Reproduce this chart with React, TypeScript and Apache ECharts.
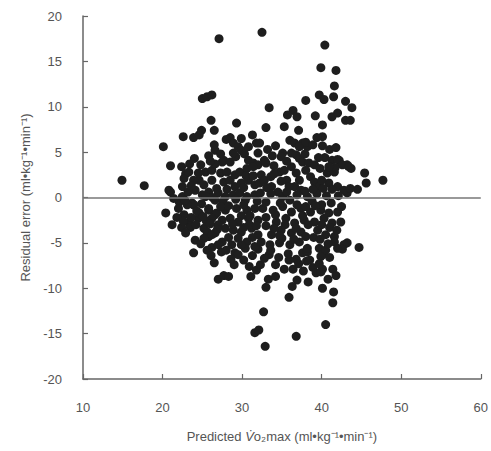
import React, { useEffect, useRef } from "react";
import * as echarts from "echarts";

// Predicted VO2max (x) and residual error (y)
const predictedVo2max: number[] = [
  14.9, 17.7, 20.1, 20.4, 27.1, 25.0, 25.6, 26.2, 26.1, 26.5, 24.9, 22.6, 23.9, 24.6, 26.5, 26.6, 24.0, 21.0, 22.9, 27.5,
  22.5, 21.0, 32.5, 40.4, 39.9, 41.8, 41.6, 38.0, 39.7, 40.3, 41.5, 43.0, 33.4, 36.4, 35.7, 36.9, 39.2, 41.3, 42.0, 43.0,
  43.6, 29.3, 33.0, 35.3, 37.1, 40.1, 40.1, 28.5, 29.9, 31.3, 31.8, 35.1, 36.0, 37.6, 38.2, 40.1, 42.2, 43.2, 43.8, 43.7,
  45.4, 45.6, 47.7, 44.5, 43.2, 43.2, 44.7, 22.7, 23.3, 23.5, 23.9, 25.2, 25.8, 26.6, 27.5, 23.9, 26.5, 27.0, 27.7, 22.1,
  25.8, 26.6, 28.3, 31.1, 31.8, 32.3, 33.3, 34.2, 29.1, 29.5, 32.0, 36.4, 37.7, 38.9, 40.1, 36.9, 36.3, 35.9, 41.5, 41.4,
  32.7, 31.6, 32.1, 32.9, 36.8, 40.5, 42.8, 42.6, 37.6, 38.2, 39.7, 40.1, 39.3, 39.9,
  // upper-left core
  28.9, 29.5, 29.9, 30.3, 27.7, 28.5, 29.2, 30.8, 31.4, 32.0,
  25.4, 26.2, 27.3, 28.1, 24.6, 25.2, 26.2, 27.7, 28.5, 29.1, 29.7, 30.6, 31.4, 24.1, 25.0, 25.8, 26.8, 28.1, 29.1, 29.9,
  30.8, 31.6, 32.2, 27.9, 28.9, 29.7, 30.6, 31.6, 20.8,
  // upper-right core
  36.6, 37.2, 38.0, 38.9, 34.9, 36.2, 36.8, 37.2, 37.6, 38.4, 39.1, 41.3, 42.0, 42.6, 43.4,
  32.2, 32.0, 32.8, 33.0, 34.7, 35.3, 36.2, 36.8, 37.2, 36.6, 37.4, 38.6, 39.1, 39.7, 38.2, 40.7, 41.6, 40.9, 42.0, 42.8,
  43.6, 32.4, 32.8, 33.7, 34.5, 35.1,
  // lower-left core
  25.6, 26.2, 25.2, 21.4, 22.5, 23.7, 25.4, 26.6, 27.6, 29.2, 30.4, 31.9, 25.8, 26.8, 27.9, 29.3, 30.6, 31.6, 26.2, 27.5,
  28.5, 29.5, 30.8, 32.0, 27.9, 28.9, 29.9, 31.2, 32.0, 29.5, 30.6, 31.6, 32.4,
  // lower-right core
  32.6, 33.9, 35.1, 36.2, 37.4, 38.6, 39.9, 40.9, 42.0, 33.0, 34.3, 35.5, 36.6, 37.8, 39.1, 40.3, 41.3, 42.4,
  33.7, 34.9, 36.2, 37.4, 39.5, 40.5, 41.6, 33.5, 34.7, 36.0, 37.2, 38.2, 40.5, 41.6, 42.0, 39.9, 39.7,
  // dense centre
  30.2, 31.0, 33.0, 33.6, 34.2, 34.8, 35.6, 36.0, 36.9, 37.6, 38.0, 38.8, 39.4, 40.0, 40.6, 41.2, 30.9, 31.8, 33.0, 34.0,
  35.4, 36.8, 38.3, 39.0, 40.0, 41.0, 35.0, 36.5, 38.0, 33.4, 34.6, 35.8, 36.8, 34.2, 35.3, 38.5, 41.0, 41.4, 40.8, 41.8,
  27.0, 28.3, 27.4, 26.2, 28.7, 30.4, 30.2, 29.0, 30.9, 24.5, 25.5, 22.4, 21.8, 22.9, 24.1, 21.2, 33.6, 34.0, 35.6, 38.0,
  39.8, 40.4, 41.0, 41.7, 40.0, 38.9, 33.2, 34.2, 30.5, 27.3, 28.0, 25.8, 24.8, 23.4, 26.6, 23.9, 24.6, 23.1, 22.7, 23.3,
  23.9,
  22.0, 22.8, 23.2, 24.3, 24.9, 23.6, 24.2, 22.6, 25.1, 26.0, 26.9, 27.3, 28.3, 28.8, 29.9, 30.2, 31.3, 29.9, 28.0, 27.0,
  25.6, 24.8, 26.1, 28.6, 31.3, 32.8, 33.6, 34.7, 35.9, 37.1, 38.1, 39.8, 40.8, 41.9, 42.5, 42.1, 41.3, 40.2, 39.2, 37.9,
  36.9, 35.9, 34.9, 34.0, 33.1, 32.3, 31.4, 30.2, 27.0, 26.3, 24.5, 23.6, 22.4, 26.0, 28.9, 30.8, 33.8, 35.6, 37.9, 39.6,
  40.9, 41.8, 39.4, 33.0, 38.3, 40.1,
];

const residualError: number[] = [
  1.9, 1.3, 5.6, -1.7, 17.5, 10.9, 11.1, 11.3, 8.5, 7.4, 7.4, 6.7, 6.6, 6.9, 5.8, 5.2, 4.3, 3.5, 2.6, 3.9,
  1.2, 0.6, 18.2, 16.8, 14.3, 14.0, 12.3, 10.7, 11.3, 10.8, 11.1, 10.6, 9.9, 9.6, 9.1, 8.9, 9.0, 8.9, 9.3, 8.5,
  8.5, 8.2, 7.7, 7.8, 7.4, 8.0, 6.7, 6.6, 6.5, 6.9, 6.0, 4.9, 6.3, 6.0, 5.6, 5.7, 4.1, 3.6, 9.9, 3.2,
  2.7, 1.6, 1.9, 0.9, 0.5, -5.0, -5.5, -1.9, -2.8, -3.3, -0.8, -3.4, -4.3, -3.9, -4.9, -6.1, -7.2, -9.0, -8.6, -0.5,
  -1.4, -1.9, -8.7, -8.7, -8.0, -7.4, -9.0, -8.7, -6.1, -6.3, -5.7, -7.9, -8.1, -7.7, -7.9, -9.1, -9.8, -11.0, -10.4, -11.6,
  -12.6, -14.9, -14.6, -16.4, -15.3, -14.0, -5.2, -5.7, -6.1, -6.0, -5.6, -6.3, -8.3, -8.2,
  // upper-left core
  6.0, 5.6, 5.2, 4.8, 4.1, 3.9, 4.5, 4.1, 3.8, 3.6,
  2.8, 3.0, 2.7, 2.8, 1.9, 1.4, 1.9, 1.7, 1.9, 2.5, 2.8, 3.2, 3.4, 0.8, 0.3, 0.6, 1.0, 0.9, 1.2, 1.6,
  1.9, 1.4, 1.6, 0.1, 0.3, 0.5, 0.1, 0.3, 0.8,
  // upper-right core
  6.0, 5.6, 6.1, 5.8, 4.5, 4.9, 4.7, 4.3, 3.9, 3.8, 3.6, 4.1, 4.2, 3.6, 3.4,
  6.0, 4.9, 4.1, 3.8, 2.8, 3.0, 3.4, 2.7, 1.9, 1.2, 0.8, 2.3, 1.7, 1.2, 0.1, 2.7, 2.8, 1.6, 1.2, 0.8,
  1.0, 2.5, 1.9, 1.2, 0.6, 0.1,
  // lower-left core
  -3.8, -4.1, -4.5, -0.1, 0.1, -0.6, 0.1, -0.3, -0.4, -0.2, -0.3, -0.4, -1.2, -1.7, -1.4, -1.2, -1.4, -1.2, -2.3, -2.5,
  -2.3, -2.7, -2.3, -2.5, -3.4, -3.6, -3.8, -3.4, -4.1, -4.5, -4.9, -5.4, -4.9,
  // lower-right core
  -1.2, -1.4, -1.0, -1.6, -1.2, -1.6, -1.4, -1.7, -1.6, -2.2, -2.7, -2.3, -2.8, -2.5, -2.7, -2.3, -2.8, -2.7,
  -4.1, -3.6, -3.9, -3.8, -3.6, -4.1, -4.3, -5.2, -5.0, -5.2, -4.9, -5.6, -5.8, -4.9, -5.6, -6.5, -7.3,
  // dense centre
  -0.8, -2.0, -0.5, 0.4, -1.9, -0.6, 0.6, -0.3, -0.8, -2.0, -1.0, -0.4, 0.4, -0.8, 0.2, -0.6, -3.0, -3.1, -3.1, -3.4,
  -3.0, -3.4, -3.0, -4.4, -3.0, -3.3, -4.5, -4.6, -4.3, -6.3, -6.6, -6.2, -6.8, -7.4, -7.9, -6.9, -6.6, -7.9, -9.0, -8.6,
  -3.0, -4.4, -6.0, -5.5, -5.2, -5.6, -6.9, -7.4, -7.6, -2.3, -2.6, -3.3, -2.2, -3.9, -4.7, -3.0, 2.3, 3.5, 1.9, 3.0,
  3.2, 4.4, 5.3, 3.3, 1.9, 0.9, 5.3, 5.7, 2.4, 4.8, 6.4, 4.6, 3.6, 3.7, 3.7, -0.8, -1.7, -0.8, 2.1, 2.8,
  1.9,
  -1.2, -0.3, 0.6, -1.5, -0.7, -2.2, -3.0, -2.6, -2.1, -2.9, -3.5, -1.0, -0.9, -2.9, -2.0, -3.3, -4.4, -5.2, -5.8, -5.2,
  -5.8, -5.1, -6.4, -6.8, -6.4, -6.7, -5.8, -4.2, -6.9, -7.3, -7.0, -4.6, -5.1, -3.6, -1.0, 0.2, 0.9, 1.0, -0.9, 0.7,
  0.3, 1.2, 1.8, 2.6, 1.1, 0.5, 2.4, 1.1, 0.5, 0.0, 2.7, 1.3, 3.4, 4.0, 4.9, 5.6, 4.6, 4.0, 4.8, 4.4,
  3.4, 5.5, 6.6, -9.9, -9.3, -10.0,
];

const xTicks = { min: 10, max: 60, interval: 10 };
const yTicks = { min: -20, max: 20, interval: 5 };
const zeroLine: number[] = [0];

const FONT = "'Liberation Sans', Arial, sans-serif";

export default function App() {
  const ref = useRef<HTMLDivElement>(null);

  useEffect(() => {
    if (!ref.current) return;
    const chart = echarts.init(ref.current, undefined, { renderer: "svg" });
    const n = Math.min(predictedVo2max.length, residualError.length);
    const points: number[][] = [];
    for (let i = 0; i < n; i++) points.push([predictedVo2max[i], residualError[i]]);

    chart.setOption({
      animation: false,
      backgroundColor: "#ffffff",
      textStyle: { fontFamily: FONT },
      grid: { left: 83, right: 6, top: 16, bottom: 72, containLabel: false },
      xAxis: {
        type: "value",
        min: xTicks.min,
        max: xTicks.max,
        interval: xTicks.interval,
        axisLine: { show: true, onZero: false, lineStyle: { color: "#666", width: 1.5 } },
        axisTick: { show: true, inside: true, length: 5, lineStyle: { color: "#666", width: 1.2 } },
        axisLabel: { color: "#555", fontSize: 13, margin: 22, fontFamily: FONT },
        splitLine: { show: false },
        name: "{n|Predicted }{v|V̇}{n|o₂max (ml•kg⁻¹•min⁻¹)}",
        nameLocation: "middle",
        nameGap: 51,
        nameTextStyle: {
          rich: {
            n: { color: "#555", fontSize: 13, fontFamily: FONT },
            v: { color: "#555", fontSize: 13, fontFamily: FONT, fontStyle: "italic" },
          },
        },
      },
      yAxis: {
        type: "value",
        min: yTicks.min,
        max: yTicks.max,
        interval: yTicks.interval,
        axisLine: { show: true, onZero: false, lineStyle: { color: "#666", width: 1.5 } },
        axisTick: { show: true, inside: true, length: 5, lineStyle: { color: "#666", width: 1.2 } },
        axisLabel: { color: "#555", fontSize: 13, margin: 21, fontFamily: FONT },
        splitLine: { show: false },
        name: "Residual error (ml•kg⁻¹•min⁻¹)",
        nameLocation: "middle",
        nameGap: 50,
        nameTextStyle: { color: "#555", fontSize: 13, fontFamily: FONT },
      },
      series: [
        {
          type: "scatter",
          data: points,
          symbol: "circle",
          symbolSize: 9,
          itemStyle: { color: "#1e1e1e", opacity: 1 },
          markLine: {
            silent: true,
            symbol: "none",
            label: { show: false },
            lineStyle: { color: "#777", width: 1.5, type: "solid" },
            data: zeroLine.map((v) => ({ yAxis: v })),
          },
        },
      ],
    });

    return () => chart.dispose();
  }, []);

  return (
    <div
      ref={ref}
      style={{ position: "fixed", left: 0, top: 0, width: 491, height: 451, background: "#fff" }}
    />
  );
}
